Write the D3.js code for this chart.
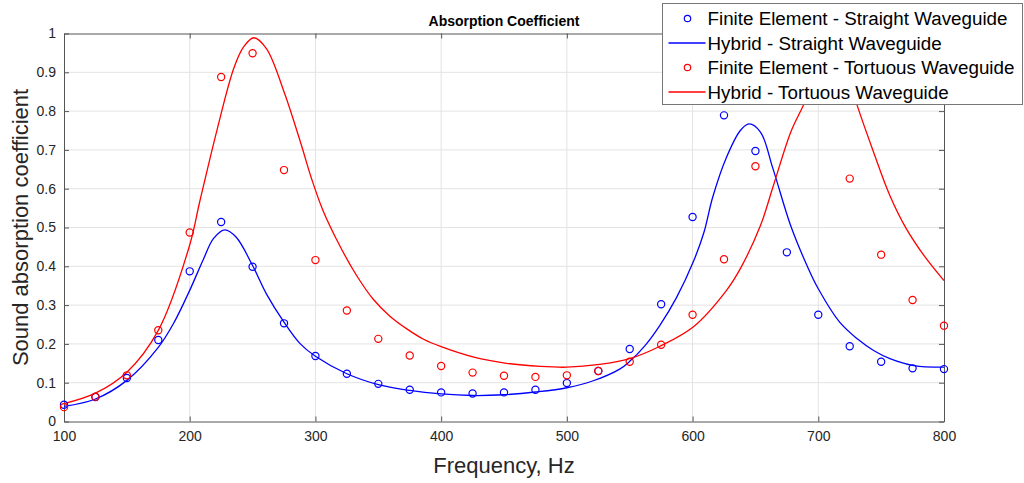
<!DOCTYPE html>
<html>
<head>
<meta charset="utf-8">
<script src="https://cdn.jsdelivr.net/npm/d3@7"></script>
<style>
  body { margin: 0; background: #fff; }
  svg { display: block; font-family: "Liberation Sans", Arial, sans-serif; }
</style>
</head>
<body>
<div id="chart"></div>
<script>
// Finite element samples (every 25 Hz)
const feFreq = d3.range(100, 801, 25);
const feStraight = [0.043, 0.063, 0.112, 0.21, 0.387, 0.514, 0.399, 0.253, 0.169, 0.123,
  0.097, 0.082, 0.075, 0.072, 0.075, 0.082, 0.099, 0.13, 0.187, 0.302, 0.527, 0.789,
  0.697, 0.436, 0.275, 0.194, 0.154, 0.137, 0.135];
const feTortuous = [0.037, 0.064, 0.119, 0.235, 0.487, 0.888, 0.949, 0.648, 0.416, 0.286,
  0.213, 0.170, 0.143, 0.126, 0.118, 0.115, 0.119, 0.130, 0.154, 0.198, 0.275, 0.418,
  0.658, 0.86, 0.9, 0.626, 0.43, 0.313, 0.247];

// Hybrid model curves
const hyStraightFreq = [100, 125, 150, 175, 187, 200, 211, 219, 228, 237, 250, 261, 275, 288,
  300, 325, 350, 375, 400, 425, 450, 475, 500, 521, 542, 550, 562, 574, 587, 601, 609, 616, 627,
  638, 645, 654, 664, 678, 691, 700, 717, 731, 744, 757, 776, 800];
const hyStraight = [0.039, 0.058, 0.106, 0.191, 0.252, 0.338, 0.419, 0.472, 0.494, 0.475, 0.402,
  0.329, 0.256, 0.200, 0.168, 0.123, 0.095, 0.080, 0.071, 0.067, 0.069, 0.076, 0.087, 0.105,
  0.135, 0.155, 0.195, 0.248, 0.318, 0.415, 0.487, 0.578, 0.681, 0.75, 0.767, 0.746, 0.651,
  0.505, 0.402, 0.342, 0.256, 0.213, 0.183, 0.162, 0.144, 0.140];
const hyTortuousFreq = [100, 125, 150, 175, 200, 208, 222, 235, 243, 251, 261, 275, 288, 297,
  306, 320, 333, 346, 359, 373, 386, 400, 426, 452, 479, 500, 526, 550, 574, 601, 627, 638,
  654, 664, 678, 688, 700, 710, 720, 731, 744, 757, 770, 784, 800];
const hyTortuous = [0.046, 0.073, 0.127, 0.235, 0.455, 0.567, 0.755, 0.91, 0.966, 0.989, 0.961,
  0.85, 0.721, 0.625, 0.544, 0.449, 0.375, 0.315, 0.272, 0.238, 0.212, 0.193, 0.166, 0.150,
  0.142, 0.140, 0.147, 0.162, 0.194, 0.245, 0.338, 0.394, 0.505, 0.605, 0.745, 0.814, 0.9,
  0.95, 0.93, 0.814, 0.694, 0.582, 0.497, 0.428, 0.363];

const xTicks = d3.range(100, 801, 100);
const yTicks = d3.range(0, 11).map(d => d / 10);
const legendLabels = ["Finite Element - Straight Waveguide", "Hybrid - Straight Waveguide",
  "Finite Element - Tortuous Waveguide", "Hybrid - Tortuous Waveguide"];

const width = 1024, height = 483;
const margin = {top: 33, right: 80, bottom: 62, left: 64};
const blue = "#0000ff", red = "#ff0000", axisColor = "#262626";

const svg = d3.select("#chart").append("svg")
    .attr("width", width)
    .attr("height", height);

const x = d3.scaleLinear().domain([100, 800]).range([margin.left, width - margin.right]);
const y = d3.scaleLinear().domain([0, 1]).range([height - margin.bottom + 0.5, margin.top + 0.5]);

// grid
const grid = svg.append("g");
grid.selectAll(".gx").data(xTicks.slice(1, -1)).join("line")
    .attr("x1", d => x(d)).attr("x2", d => x(d))
    .attr("y1", y(0)).attr("y2", y(1))
    .attr("stroke", "#e3e3e3");
grid.selectAll(".gy").data(yTicks.slice(1, -1)).join("line")
    .attr("x1", x(100)).attr("x2", x(800))
    .attr("y1", d => y(d)).attr("y2", d => y(d))
    .attr("stroke", "#e3e3e3");

// axes (ticks inward, box on)
const tickStyle = g => {
  g.select(".domain").attr("stroke", "#555");
  g.selectAll(".tick line").attr("stroke", "#555");
  g.selectAll(".tick text").attr("fill", axisColor).attr("font-size", 14)
    .attr("font-family", "Liberation Sans, Arial, sans-serif");
};
svg.append("g").attr("transform", `translate(0,${y(0)})`)
    .call(d3.axisBottom(x).tickValues(xTicks).tickSizeInner(-5).tickSizeOuter(0).tickPadding(10))
    .call(tickStyle);
svg.append("g").attr("transform", `translate(0,${y(1)})`)
    .call(d3.axisTop(x).tickValues(xTicks).tickSizeInner(-5).tickSizeOuter(0).tickFormat(""))
    .call(tickStyle);
svg.append("g").attr("transform", `translate(${x(100)},0)`)
    .call(d3.axisLeft(y).tickValues(yTicks).tickSizeInner(-5).tickSizeOuter(0).tickPadding(8)
      .tickFormat(d3.format("~g")))
    .call(tickStyle);
svg.append("g").attr("transform", `translate(${x(800)},0)`)
    .call(d3.axisRight(y).tickValues(yTicks).tickSizeInner(-5).tickSizeOuter(0).tickFormat(""))
    .call(tickStyle);

// curves
const line = d3.line().curve(d3.curveCatmullRom.alpha(0.5)).x(d => x(d[0])).y(d => y(d[1]));
svg.append("path").datum(d3.zip(hyStraightFreq, hyStraight))
    .attr("d", line).attr("fill", "none").attr("stroke", blue).attr("stroke-width", 1.3);
svg.append("path").datum(d3.zip(hyTortuousFreq, hyTortuous))
    .attr("d", line).attr("fill", "none").attr("stroke", red).attr("stroke-width", 1.3);

// markers
svg.append("g").selectAll("circle").data(d3.zip(feFreq, feStraight)).join("circle")
    .attr("cx", d => x(d[0])).attr("cy", d => y(d[1])).attr("r", 3.6)
    .attr("fill", "none").attr("stroke", blue).attr("stroke-width", 1.2);
svg.append("g").selectAll("circle").data(d3.zip(feFreq, feTortuous)).join("circle")
    .attr("cx", d => x(d[0])).attr("cy", d => y(d[1])).attr("r", 3.6)
    .attr("fill", "none").attr("stroke", red).attr("stroke-width", 1.2);

// title and labels
svg.append("text").attr("x", 504).attr("y", 26).attr("text-anchor", "middle")
    .attr("font-size", 14).attr("font-weight", "bold").text("Absorption Coefficient");
svg.append("text").attr("x", 504).attr("y", 473).attr("text-anchor", "middle")
    .attr("font-size", 22).attr("fill", axisColor).text("Frequency, Hz");
svg.append("text").attr("transform", `translate(28,${(y(0) + y(1)) / 2}) rotate(-90)`)
    .attr("text-anchor", "middle").attr("font-size", 22).attr("fill", axisColor)
    .text("Sound absorption coefficient");

// legend
const legend = svg.append("g").attr("transform", "translate(662.5,3.5)");
legend.append("rect").attr("width", 360).attr("height", 101)
    .attr("fill", "#fff").attr("stroke", "#777");
const colors = [blue, blue, red, red];
legendLabels.forEach((label, i) => {
  const ly = 15 + i * 24.5;
  if (i % 2 === 0) {
    legend.append("circle").attr("cx", 25).attr("cy", ly).attr("r", 3.2)
      .attr("fill", "none").attr("stroke", colors[i]).attr("stroke-width", 1.2);
  } else {
    legend.append("line").attr("x1", 6).attr("x2", 43).attr("y1", ly).attr("y2", ly)
      .attr("stroke", colors[i]).attr("stroke-width", 1.3);
  }
  legend.append("text").attr("x", 45).attr("y", ly + 6.5).attr("font-size", 18.8)
    .attr("fill", "#000").text(label);
});
</script>
</body>
</html>
